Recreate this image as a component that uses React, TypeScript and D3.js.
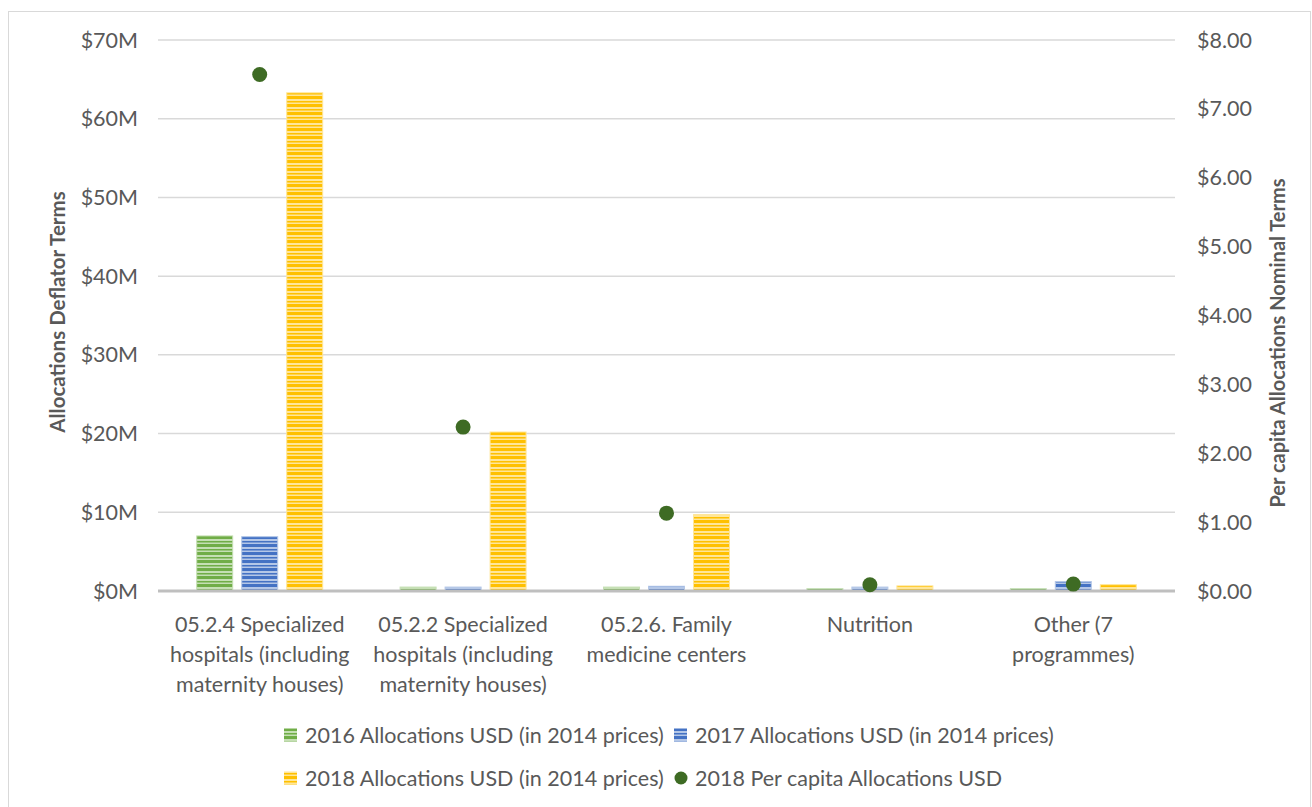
import React, { useEffect, useRef } from 'react';
import * as d3 from 'd3';

// categories on the x axis (multi-line labels)
const categories = [
  ['05.2.4 Specialized', 'hospitals (including', 'maternity houses)'],
  ['05.2.2 Specialized', 'hospitals (including', 'maternity houses)'],
  ['05.2.6. Family', 'medicine centers'],
  ['Nutrition'],
  ['Other (7', 'programmes)'],
];

// allocations in millions USD (2014 prices)
const alloc2016 = [7.0, 0.5, 0.5, 0.3, 0.3];
const alloc2017 = [6.9, 0.5, 0.6, 0.5, 1.2];
const alloc2018 = [63.3, 20.2, 9.7, 0.65, 0.8];
// per capita allocations, USD
const perCapita2018 = [7.5, 2.38, 1.13, 0.09, 0.1];

const leftTicks = [0, 10, 20, 30, 40, 50, 60, 70];
const rightTicks = [0, 1, 2, 3, 4, 5, 6, 7, 8];

const seriesNames = [
  '2016 Allocations USD (in 2014 prices)',
  '2017 Allocations USD (in 2014 prices)',
  '2018 Allocations USD (in 2014 prices)',
];
const dotName = '2018 Per capita Allocations USD';

const colors = [
  { dark: '#70AD47', light: '#C5DFB4' },
  { dark: '#4472C4', light: '#B4C7E7' },
  { dark: '#FFC000', light: '#FFE699' },
];
const dotColor = '#3E6B24';
const font = 'Lato, "Open Sans", sans-serif';
const textColor = '#595959';

export default function App() {
  const svgRef = useRef<SVGSVGElement>(null);

  useEffect(() => {
    if (!svgRef.current) return;
    const svg = d3.select(svgRef.current);
    svg.selectAll('*').remove();

    const W = 1312;
    const H = 807;
    const plot = { left: 158, right: 1175, top: 40, bottom: 591 };

    // chart frame
    svg.append('rect')
      .attr('x', 8.5).attr('y', 11.5)
      .attr('width', W - 10).attr('height', H)
      .attr('fill', '#fff')
      .attr('stroke', '#D9D9D9');

    // stripe patterns
    const defs = svg.append('defs');
    colors.forEach((c, i) => {
      const p = defs.append('pattern')
        .attr('id', `stripe${i}`)
        .attr('patternUnits', 'userSpaceOnUse')
        .attr('width', 8).attr('height', 8);
      p.append('rect').attr('width', 8).attr('height', 8).attr('fill', c.light);
      p.append('rect').attr('y', 0).attr('width', 8).attr('height', 3).attr('fill', c.dark);
      p.append('rect').attr('y', 5).attr('width', 8).attr('height', 1.5).attr('fill', c.dark);
    });

    const yL = d3.scaleLinear().domain([0, 70]).range([plot.bottom, plot.top]);
    const yR = d3.scaleLinear().domain([0, 8]).range([plot.bottom, plot.top]);
    const x0 = d3.scaleBand<number>()
      .domain(categories.map((_, i) => i))
      .range([plot.left, plot.right]);
    const x1 = d3.scaleBand<number>()
      .domain([0, 1, 2])
      .range([0, x0.bandwidth()])
      .paddingInner(0.2)
      .paddingOuter(0.86);

    // gridlines
    svg.append('g')
      .selectAll('line')
      .data(leftTicks.filter(t => t > 0))
      .join('line')
      .attr('x1', plot.left).attr('x2', plot.right)
      .attr('y1', d => yL(d)).attr('y2', d => yL(d))
      .attr('stroke', '#D9D9D9').attr('stroke-width', 1.5);

    // left axis labels
    svg.append('g')
      .selectAll('text')
      .data(leftTicks)
      .join('text')
      .attr('x', 138)
      .attr('y', d => yL(d))
      .attr('dy', '0.35em')
      .attr('text-anchor', 'end')
      .attr('font-family', font)
      .attr('font-size', 21.5)
      .attr('fill', textColor)
      .text(d => `$${d}M`);

    // right axis labels
    svg.append('g')
      .selectAll('text')
      .data(rightTicks)
      .join('text')
      .attr('x', 1197)
      .attr('y', d => yR(d))
      .attr('dy', '0.35em')
      .attr('text-anchor', 'start')
      .attr('font-family', font)
      .attr('font-size', 21.5)
      .attr('fill', textColor)
      .text(d => `$${d.toFixed(2)}`);

    // axis titles
    svg.append('text')
      .attr('transform', 'translate(65,312) rotate(-90)')
      .attr('text-anchor', 'middle')
      .attr('font-family', font)
      .attr('font-size', 20.5)
      .attr('font-weight', 'bold')
      .attr('fill', textColor)
      .text('Allocations Deflator Terms');
    svg.append('text')
      .attr('transform', 'translate(1285,343) rotate(-90)')
      .attr('text-anchor', 'middle')
      .attr('font-family', font)
      .attr('font-size', 20)
      .attr('font-weight', 'bold')
      .attr('fill', textColor)
      .text('Per capita Allocations Nominal Terms');

    // bars
    const seriesData = [alloc2016, alloc2017, alloc2018];
    seriesData.forEach((vals, s) => {
      svg.append('g')
        .selectAll('rect')
        .data(vals)
        .join('rect')
        .attr('x', (_, i) => (x0(i) as number) + (x1(s) as number))
        .attr('y', d => yL(d))
        .attr('width', x1.bandwidth())
        .attr('height', d => yL(0) - yL(d))
        .attr('fill', `url(#stripe${s})`)
        .attr('stroke', colors[s].light)
        .attr('stroke-width', 1);
    });

    // baseline
    svg.append('line')
      .attr('x1', plot.left).attr('x2', plot.right)
      .attr('y1', yL(0)).attr('y2', yL(0))
      .attr('stroke', '#BFBFBF').attr('stroke-width', 3);

    // per capita dots
    svg.append('g')
      .selectAll('circle')
      .data(perCapita2018)
      .join('circle')
      .attr('cx', (_, i) => (x0(i) as number) + x0.bandwidth() / 2)
      .attr('cy', d => yR(d))
      .attr('r', 7.5)
      .attr('fill', dotColor);

    // category labels
    const catG = svg.append('g');
    categories.forEach((lines, i) => {
      const cx = (x0(i) as number) + x0.bandwidth() / 2;
      const t = catG.append('text')
        .attr('x', cx)
        .attr('y', 632)
        .attr('text-anchor', 'middle')
        .attr('font-family', font)
        .attr('font-size', 21.5)
        .attr('fill', textColor);
      lines.forEach((l, k) => {
        t.append('tspan')
          .attr('x', cx)
          .attr('dy', k === 0 ? 0 : 30)
          .text(l);
      });
    });

    // legend
    const legendItems = [
      { name: seriesNames[0], kind: 0, x: 284, y: 735 },
      { name: seriesNames[1], kind: 1, x: 674, y: 735 },
      { name: seriesNames[2], kind: 2, x: 284, y: 778 },
      { name: dotName, kind: 3, x: 674, y: 778 },
    ];
    const lg = svg.append('g');
    legendItems.forEach(item => {
      if (item.kind < 3) {
        lg.append('rect')
          .attr('x', item.x).attr('y', item.y - 6.5)
          .attr('width', 13).attr('height', 13)
          .attr('fill', `url(#stripe${item.kind})`);
      } else {
        lg.append('circle')
          .attr('cx', item.x + 7).attr('cy', item.y)
          .attr('r', 6.5)
          .attr('fill', dotColor);
      }
      lg.append('text')
        .attr('x', item.x + 21)
        .attr('y', item.y)
        .attr('dy', '0.35em')
        .attr('font-family', font)
        .attr('font-size', 21.5)
        .attr('fill', textColor)
        .text(item.name);
    });
  }, []);

  return (
    <svg
      ref={svgRef}
      width={1312}
      height={807}
      style={{ position: 'absolute', left: 0, top: 0, background: '#fff' }}
    />
  );
}
